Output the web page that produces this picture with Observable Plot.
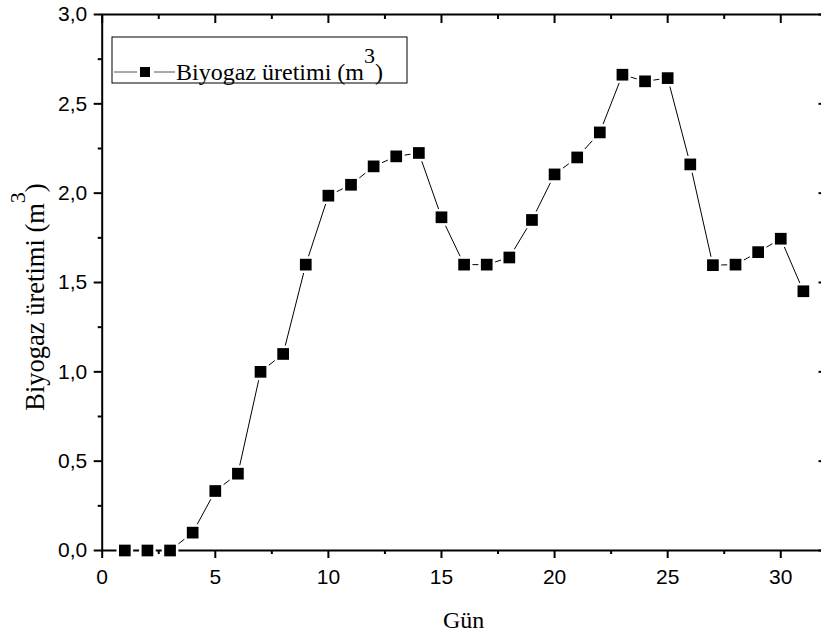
<!DOCTYPE html>
<html><head><meta charset="utf-8">
<script src="https://cdn.jsdelivr.net/npm/d3@7"></script>
<script src="https://cdn.jsdelivr.net/npm/@observablehq/plot@0.6"></script>
<style>html,body{margin:0;padding:0;overflow:hidden;background:#fff;width:821px;height:635px}</style>
</head><body><div id="chart"></div>
<script>
const days = [1,2,3,4,5,6,7,8,9,10,11,12,13,14,15,16,17,18,19,20,21,22,23,24,25,26,27,28,29,30,31];
const biogas = [0,0,0,0.10,0.333,0.43,1.0,1.10,1.60,1.986,2.047,2.15,2.206,2.225,1.865,1.60,1.60,1.64,1.85,2.105,2.20,2.34,2.663,2.626,2.644,2.161,1.597,1.60,1.67,1.745,1.451];
const xMajor = [0,5,10,15,20,25,30];
const xMinor = [2.5,7.5,12.5,17.5,22.5,27.5];
const yMajor = [0,0.5,1.0,1.5,2.0,2.5,3.0];
const yMinor = [0.25,0.75,1.25,1.75,2.25,2.75];
const seriesName = "Biyogaz üretimi (m";
const xTitle = "Gün";
const yTitle = "Biyogaz üretimi (m";
const unitSup = "3";

const rows = days.map((d, i) => ({day: d, value: biogas[i]}));
const fmt = d => d.toFixed(1).replace(".", ",");
const blank = () => "";
const tk = {stroke: "black", strokeWidth: 2, label: null};

const plot = Plot.plot({
  width: 828, height: 635,
  marginLeft: 101.7, marginRight: 2.5, marginTop: 14, marginBottom: 85,
  x: {domain: [0, 32]},
  y: {domain: [0, 3]},
  style: {fontFamily: "'Liberation Sans', Arial, sans-serif", fontSize: "21px", color: "black", background: "white", overflow: "visible", maxWidth: "none"},
  marks: [
    Plot.frame({stroke: "black", strokeWidth: 2}),
    Plot.axisY(yMajor, {...tk, anchor: "left", tickSize: 8, tickPadding: 7, tickFormat: fmt, fontSize: 21}),
    Plot.axisY(yMinor, {...tk, anchor: "left", tickSize: 4, tickFormat: blank}),
    Plot.axisY(yMajor, {...tk, anchor: "right", tickSize: 8, dx: -8, tickFormat: blank}),
    Plot.axisY(yMinor, {...tk, anchor: "right", tickSize: 4, dx: -4, tickFormat: blank}),
    Plot.axisX(xMajor, {...tk, anchor: "bottom", tickSize: 8, tickPadding: 11, tickFormat: d => String(d), fontSize: 21}),
    Plot.axisX(xMinor, {...tk, anchor: "bottom", tickSize: 4, tickFormat: blank}),
    Plot.axisX(xMajor, {...tk, anchor: "top", tickSize: 8, dy: 8, tickFormat: blank}),
    Plot.axisX(xMinor, {...tk, anchor: "top", tickSize: 4, dy: 4, tickFormat: blank}),
    Plot.line(rows, {x: "day", y: "value", stroke: "black", strokeWidth: 1}),
    Plot.dot(rows, {x: "day", y: "value", symbol: "square", r: 6.6, fill: "black", stroke: "white", strokeWidth: 5, paintOrder: "stroke"})
  ]
});
plot.style.maxWidth = "none";
document.getElementById("chart").appendChild(plot);

const svg = d3.select(plot);
const serif = "'Liberation Serif', 'Times New Roman', serif";
// legend
const lg = svg.append("g");
lg.append("rect").attr("x", 112).attr("y", 37).attr("width", 295).attr("height", 46)
  .attr("fill", "none").attr("stroke", "black").attr("stroke-width", 1);
lg.append("line").attr("x1", 114).attr("x2", 137).attr("y1", 72).attr("y2", 72).attr("stroke", "#555").attr("stroke-width", 1);
lg.append("rect").attr("x", 140).attr("y", 67).attr("width", 10).attr("height", 10).attr("fill", "black");
lg.append("line").attr("x1", 154).attr("x2", 175).attr("y1", 72).attr("y2", 72).attr("stroke", "#555").attr("stroke-width", 1);
const lt = lg.append("text").attr("x", 176).attr("y", 80).attr("text-anchor", "start")
  .attr("font-family", serif).attr("font-size", 24).attr("fill", "black");
lt.append("tspan").text(seriesName);
lt.append("tspan").attr("dy", -17).attr("font-size", 22).text(unitSup);
lt.append("tspan").attr("dy", 17).text(")");

// x title
svg.append("text").attr("x", 463.6).attr("y", 628).attr("text-anchor", "middle")
  .attr("font-family", serif).attr("font-size", 24).attr("fill", "black").text(xTitle);
// y title
const yt = svg.append("text").attr("transform", "translate(44,297) rotate(-90)").attr("text-anchor", "middle")
  .attr("font-family", serif).attr("font-size", 26.5).attr("fill", "black");
yt.append("tspan").text(yTitle);
yt.append("tspan").attr("dy", -19).attr("font-size", 22).text(unitSup);
yt.append("tspan").attr("dy", 19).text(")");
</script>
</body></html>
